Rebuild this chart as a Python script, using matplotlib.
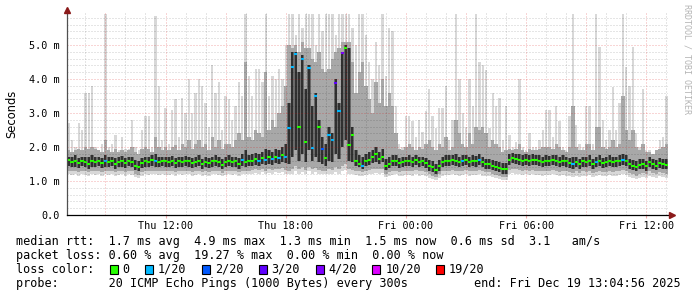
import numpy as np
import matplotlib
matplotlib.use("Agg")
import matplotlib.pyplot as plt
import matplotlib.dates as mdates
from matplotlib.patches import Rectangle
from datetime import datetime, timedelta

# smokeping data, 10 minute bins from Thu 07:05 to Fri 13:05, one row = one hour, values in ms
t_start = datetime(2025, 12, 18, 7, 5)
t_end = datetime(2025, 12, 19, 13, 4, 56)
bin_minutes = 10

med = [
    1.62, 1.55, 1.58, 1.52, 1.6, 1.55,
    1.5, 1.58, 1.55, 1.6, 1.52, 1.58,
    1.55, 1.6, 1.5, 1.55, 1.58, 1.52,
    1.6, 1.55, 1.45, 1.4, 1.52, 1.58,
    1.55, 1.62, 1.6, 1.55, 1.6, 1.58,
    1.55, 1.6, 1.52, 1.58, 1.55, 1.6,
    1.58, 1.52, 1.55, 1.6, 1.5, 1.55,
    1.52, 1.58, 1.6, 1.55, 1.48, 1.55,
    1.6, 1.55, 1.58, 1.5, 1.62, 1.55,
    1.58, 1.6, 1.65, 1.6, 1.68, 1.62,
    1.7, 1.65, 1.72, 1.68, 1.75, 1.7,
    2.56, 4.36, 4.73, 2.6, 4.6, 2.15,
    4.32, 1.97, 3.5, 2.6, 1.93, 1.68,
    2.35, 2.2, 3.88, 3.05, 4.76, 4.9,
    2.06, 2.35, 1.6, 1.5, 1.45, 1.6,
    1.62, 1.7, 1.78, 1.65, 1.72, 1.45,
    1.5, 1.58, 1.6, 1.52, 1.55, 1.58,
    1.6, 1.57, 1.62, 1.55, 1.58, 1.52,
    1.45, 1.4, 1.32, 1.45, 1.55, 1.6,
    1.6, 1.62, 1.6, 1.55, 1.6, 1.62,
    1.55, 1.6, 1.58, 1.62, 1.55, 1.5,
    1.5, 1.45, 1.42, 1.38, 1.35, 1.35,
    1.62, 1.68, 1.66, 1.62, 1.6, 1.63,
    1.6, 1.63, 1.62, 1.6, 1.56, 1.6,
    1.58, 1.62, 1.6, 1.55, 1.6, 1.58,
    1.52, 1.5, 1.55, 1.5, 1.58, 1.55,
    1.6, 1.5, 1.55, 1.6, 1.52, 1.55,
    1.6, 1.55, 1.58, 1.6, 1.62, 1.6,
    1.5, 1.45, 1.42, 1.48, 1.5, 1.45,
    1.55, 1.5, 1.45, 1.52, 1.5, 1.48,
]

# lost pings out of 20
loss = [
    0, 0, 0, 0, 0, 0,
    0, 0, 0, 0, 0, 1,
    0, 0, 0, 0, 0, 0,
    0, 0, 0, 0, 0, 0,
    0, 0, 1, 0, 0, 0,
    0, 0, 0, 0, 0, 0,
    0, 0, 0, 0, 0, 0,
    0, 0, 0, 0, 0, 0,
    0, 0, 0, 0, 1, 0,
    0, 0, 0, 1, 0, 1,
    0, 1, 0, 1, 0, 1,
    1, 1, 1, 0, 1, 0,
    1, 1, 1, 0, 2, 0,
    1, 1, 3, 1, 4, 0,
    0, 0, 0, 0, 1, 0,
    0, 0, 0, 0, 0, 0,
    0, 0, 0, 0, 0, 0,
    0, 0, 0, 0, 0, 0,
    0, 0, 0, 0, 0, 0,
    0, 0, 0, 0, 1, 0,
    0, 0, 0, 1, 0, 0,
    0, 0, 0, 0, 0, 0,
    0, 0, 0, 0, 0, 0,
    0, 0, 0, 0, 0, 0,
    0, 0, 0, 0, 0, 0,
    0, 1, 0, 0, 0, 0,
    0, 0, 1, 0, 0, 0,
    0, 0, 0, 0, 1, 0,
    0, 0, 0, 0, 0, 0,
    0, 0, 0, 0, 0, 0,
]

# max ping
hi = [
    2.7, 2.2, 2.0, 2.7, 2.5, 3.6,
    3.6, 3.8, 2.0, 1.9, 2.1, 5.9,
    2.0, 2.1, 2.35, 1.9, 2.3, 1.95,
    1.95, 2.8, 2.0, 1.9, 2.5, 2.9,
    2.9, 2.0, 5.85, 3.8, 2.2, 3.15,
    2.1, 3.1, 3.4, 2.3, 3.45, 3.0,
    4.0, 3.0, 3.6, 4.0, 3.8, 3.3,
    2.6, 4.4, 3.6, 3.9, 2.5, 3.5,
    3.4, 2.8, 3.2, 3.9, 3.5, 5.9,
    4.1, 3.5, 4.3, 4.3, 3.9, 5.9,
    3.5, 4.1, 4.0, 4.3, 4.0, 5.0,
    5.9, 5.9, 5.3, 5.9, 5.5, 5.9,
    5.9, 5.9, 5.0, 5.9, 5.4, 5.9,
    5.9, 5.9, 5.3, 5.9, 5.9, 5.9,
    5.9, 5.5, 5.0, 5.9, 5.9, 5.3,
    4.5, 4.0, 5.1, 4.4, 5.9, 4.1,
    5.5, 5.4, 3.2, 2.1, 2.0, 2.9,
    2.9, 2.75, 2.3, 2.8, 2.45, 3.05,
    3.7, 2.9, 2.55, 3.15, 3.15, 3.8,
    2.2, 2.8, 5.9, 4.0, 3.0, 2.6,
    4.0, 3.2, 5.9, 4.5, 4.4, 4.25,
    2.55, 3.6, 3.2, 3.45, 2.2, 3.2,
    2.35, 2.0, 2.15, 4.0, 2.0, 1.9,
    2.4, 2.0, 2.0, 2.2, 2.5, 3.1,
    3.1, 2.3, 3.2, 2.75, 2.0, 1.9,
    2.9, 5.9, 2.65, 2.1, 2.0, 3.2,
    3.2, 2.1, 5.9, 4.95, 2.8, 2.2,
    2.5, 3.77, 2.5, 3.3, 5.9, 4.36,
    3.8, 4.95, 2.4, 2.0, 3.7, 1.9,
    1.9, 1.8, 1.9, 2.2, 2.3, 3.5,
]

# upper edge of the medium smoke
mid_hi = [
    1.9, 1.85, 1.9, 1.95, 1.9, 2.0,
    1.95, 2.0, 1.95, 1.9, 1.85, 2.2,
    1.9, 1.85, 1.95, 1.85, 1.9, 1.85,
    1.9, 2.0, 1.85, 1.8, 1.95, 2.0,
    1.95, 1.85, 2.3, 2.0, 1.9, 2.0,
    1.9, 2.0, 2.05, 1.9, 2.1, 2.0,
    2.2, 1.95, 2.1, 2.2, 2.0, 2.1,
    1.9, 2.3, 2.0, 2.2, 1.95, 2.1,
    2.1, 2.0, 2.2, 2.4, 2.2, 4.5,
    2.3, 2.2, 2.5, 2.4, 2.3, 4.2,
    2.5, 2.8, 2.6, 3.0, 3.2, 3.8,
    5.0, 4.9, 5.0, 4.8, 5.1, 4.9,
    4.9, 4.6, 4.5, 4.8, 4.3, 4.2,
    4.3, 4.6, 4.8, 4.9, 5.1, 5.1,
    5.1, 4.5, 3.6, 4.2, 4.5, 3.8,
    3.4, 3.0, 3.9, 3.3, 4.0, 3.2,
    3.6, 3.2, 2.4, 1.95, 1.9, 2.0,
    2.1, 2.0, 1.9, 2.0, 1.95, 2.1,
    2.2, 2.0, 1.9, 2.1, 2.0, 2.3,
    1.9, 2.0, 2.8, 2.4, 2.1, 2.0,
    2.4, 2.1, 2.6, 2.5, 2.6, 2.4,
    2.0, 2.2, 2.1, 2.0, 1.85, 1.9,
    1.95, 1.9, 1.95, 2.1, 1.9, 1.85,
    1.95, 1.9, 1.9, 1.95, 2.0, 2.0,
    2.0, 1.95, 2.1, 2.0, 1.9, 1.85,
    2.0, 3.2, 2.0, 1.9, 1.9, 2.1,
    2.1, 1.9, 2.6, 2.6, 2.0, 1.95,
    2.0, 2.2, 2.0, 2.1, 3.5, 2.5,
    2.2, 2.5, 2.0, 1.9, 2.1, 1.85,
    1.85, 1.8, 1.9, 1.95, 2.0, 2.1,
]

# upper edge of the dark smoke
core_hi = [
    1.72, 1.7, 1.75, 1.68, 1.72, 1.7,
    1.7, 1.75, 1.72, 1.7, 1.68, 1.75,
    1.7, 1.72, 1.68, 1.7, 1.74, 1.68,
    1.72, 1.7, 1.62, 1.58, 1.68, 1.72,
    1.7, 1.75, 1.78, 1.7, 1.72, 1.72,
    1.7, 1.74, 1.68, 1.72, 1.7, 1.74,
    1.72, 1.68, 1.7, 1.75, 1.66, 1.7,
    1.68, 1.72, 1.75, 1.7, 1.65, 1.7,
    1.75, 1.7, 1.72, 1.68, 1.8, 1.9,
    1.75, 1.78, 1.82, 1.8, 1.85, 1.95,
    1.9, 1.85, 1.95, 1.9, 2.0, 2.1,
    3.3, 4.8, 4.8, 4.2, 4.7, 3.7,
    4.4, 3.2, 3.6, 2.8, 2.3, 2.1,
    2.6, 2.4, 4.0, 3.3, 4.8, 5.0,
    4.9, 2.6, 1.9, 1.75, 1.7, 1.78,
    1.85, 1.9, 2.0, 1.85, 1.95, 1.65,
    1.7, 1.75, 1.75, 1.68, 1.7, 1.72,
    1.75, 1.72, 1.76, 1.7, 1.72, 1.68,
    1.62, 1.58, 1.5, 1.62, 1.7, 1.75,
    1.75, 1.76, 1.78, 1.7, 1.75, 1.76,
    1.7, 1.75, 1.74, 1.78, 1.7, 1.66,
    1.66, 1.62, 1.58, 1.55, 1.52, 1.52,
    1.78, 1.82, 1.8, 1.78, 1.75, 1.78,
    1.75, 1.78, 1.76, 1.75, 1.72, 1.75,
    1.74, 1.76, 1.75, 1.7, 1.75, 1.72,
    1.68, 1.7, 1.7, 1.66, 1.72, 1.7,
    1.75, 1.66, 1.72, 1.75, 1.68, 1.7,
    1.75, 1.7, 1.72, 1.75, 1.78, 1.75,
    1.66, 1.62, 1.58, 1.64, 1.66, 1.6,
    1.7, 1.66, 1.62, 1.68, 1.66, 1.64,
]

# lower edge of the dark smoke
core_lo = [
    1.45, 1.4, 1.42, 1.38, 1.45, 1.4,
    1.36, 1.42, 1.4, 1.45, 1.38, 1.42,
    1.4, 1.45, 1.36, 1.4, 1.42, 1.38,
    1.44, 1.4, 1.32, 1.28, 1.38, 1.42,
    1.4, 1.45, 1.42, 1.4, 1.44, 1.42,
    1.4, 1.44, 1.38, 1.42, 1.4, 1.44,
    1.42, 1.38, 1.4, 1.44, 1.36, 1.4,
    1.38, 1.42, 1.44, 1.4, 1.34, 1.4,
    1.44, 1.4, 1.42, 1.36, 1.45, 1.42,
    1.44, 1.45, 1.48, 1.45, 1.5, 1.46,
    1.5, 1.48, 1.52, 1.5, 1.55, 1.52,
    1.5, 1.7, 1.9, 1.6, 1.8, 1.55,
    1.9, 1.6, 1.7, 1.55, 1.5, 1.45,
    1.6, 1.55, 1.8, 1.65, 2.0, 2.2,
    1.6, 1.55, 1.45, 1.4, 1.35, 1.45,
    1.48, 1.52, 1.55, 1.5, 1.55, 1.32,
    1.38, 1.44, 1.45, 1.38, 1.4, 1.44,
    1.45, 1.42, 1.46, 1.4, 1.44, 1.38,
    1.3, 1.26, 1.2, 1.3, 1.4, 1.45,
    1.45, 1.46, 1.45, 1.4, 1.45, 1.46,
    1.4, 1.45, 1.42, 1.46, 1.4, 1.36,
    1.36, 1.32, 1.28, 1.25, 1.22, 1.22,
    1.48, 1.52, 1.5, 1.48, 1.45, 1.48,
    1.45, 1.48, 1.46, 1.45, 1.42, 1.45,
    1.44, 1.46, 1.45, 1.4, 1.45, 1.42,
    1.38, 1.36, 1.4, 1.36, 1.42, 1.4,
    1.45, 1.36, 1.4, 1.45, 1.38, 1.4,
    1.45, 1.4, 1.42, 1.45, 1.46, 1.45,
    1.36, 1.32, 1.28, 1.34, 1.36, 1.3,
    1.4, 1.36, 1.32, 1.38, 1.36, 1.34,
]

# lower edge of the medium smoke
mid_lo = [
    1.3, 1.28, 1.3, 1.26, 1.3, 1.28,
    1.25, 1.3, 1.28, 1.3, 1.26, 1.3,
    1.28, 1.3, 1.25, 1.28, 1.3, 1.26,
    1.3, 1.28, 1.22, 1.18, 1.26, 1.3,
    1.28, 1.3, 1.3, 1.28, 1.3, 1.28,
    1.28, 1.3, 1.26, 1.3, 1.28, 1.3,
    1.3, 1.26, 1.28, 1.3, 1.25, 1.28,
    1.26, 1.3, 1.3, 1.28, 1.24, 1.28,
    1.3, 1.28, 1.3, 1.25, 1.3, 1.3,
    1.3, 1.32, 1.34, 1.32, 1.35, 1.3,
    1.35, 1.32, 1.36, 1.35, 1.38, 1.32,
    1.3, 1.36, 1.45, 1.35, 1.4, 1.32,
    1.42, 1.35, 1.38, 1.32, 1.3, 1.3,
    1.35, 1.32, 1.4, 1.36, 1.45, 1.5,
    1.36, 1.32, 1.3, 1.28, 1.25, 1.3,
    1.32, 1.35, 1.36, 1.34, 1.36, 1.22,
    1.26, 1.3, 1.3, 1.26, 1.28, 1.3,
    1.3, 1.28, 1.32, 1.28, 1.3, 1.26,
    1.2, 1.16, 1.12, 1.2, 1.28, 1.3,
    1.3, 1.32, 1.3, 1.28, 1.3, 1.32,
    1.28, 1.3, 1.3, 1.32, 1.28, 1.25,
    1.25, 1.22, 1.18, 1.15, 1.12, 1.12,
    1.32, 1.36, 1.35, 1.32, 1.3, 1.32,
    1.3, 1.32, 1.3, 1.3, 1.28, 1.3,
    1.3, 1.32, 1.3, 1.26, 1.3, 1.28,
    1.25, 1.24, 1.28, 1.24, 1.28, 1.26,
    1.3, 1.24, 1.26, 1.3, 1.25, 1.26,
    1.3, 1.26, 1.28, 1.3, 1.32, 1.3,
    1.24, 1.2, 1.16, 1.22, 1.24, 1.2,
    1.28, 1.24, 1.2, 1.25, 1.24, 1.22,
]

# min ping
lo = [
    1.2, 1.18, 1.2, 1.16, 1.2, 1.18,
    1.15, 1.2, 1.18, 1.2, 1.16, 1.2,
    1.18, 1.2, 1.15, 1.18, 1.2, 1.16,
    1.2, 1.18, 1.12, 1.08, 1.16, 1.2,
    1.18, 1.2, 1.2, 1.18, 1.2, 1.18,
    1.18, 1.2, 1.16, 1.2, 1.18, 1.2,
    1.2, 1.16, 1.18, 1.2, 1.15, 1.18,
    1.16, 1.2, 1.2, 1.18, 1.14, 1.18,
    1.2, 1.18, 1.2, 1.15, 1.2, 1.2,
    1.2, 1.22, 1.24, 1.22, 1.25, 1.2,
    1.24, 1.2, 1.25, 1.24, 1.26, 1.2,
    1.2, 1.22, 1.28, 1.22, 1.25, 1.2,
    1.28, 1.22, 1.25, 1.2, 1.2, 1.2,
    1.22, 1.2, 1.26, 1.22, 1.3, 1.32,
    1.22, 1.2, 1.18, 1.16, 1.14, 1.18,
    1.2, 1.22, 1.24, 1.22, 1.24, 1.12,
    1.15, 1.18, 1.2, 1.15, 1.16, 1.18,
    1.18, 1.16, 1.2, 1.16, 1.18, 1.15,
    1.1, 1.06, 1.02, 1.1, 1.16, 1.18,
    1.18, 1.2, 1.18, 1.16, 1.18, 1.2,
    1.16, 1.18, 1.18, 1.2, 1.16, 1.14,
    1.14, 1.12, 1.08, 1.05, 1.02, 1.02,
    1.2, 1.24, 1.22, 1.2, 1.18, 1.2,
    1.18, 1.2, 1.18, 1.18, 1.16, 1.18,
    1.18, 1.2, 1.18, 1.14, 1.18, 1.16,
    1.14, 1.12, 1.16, 1.12, 1.16, 1.14,
    1.18, 1.12, 1.14, 1.18, 1.14, 1.14,
    1.18, 1.14, 1.16, 1.18, 1.2, 1.18,
    1.12, 1.08, 1.05, 1.1, 1.12, 1.08,
    1.16, 1.12, 1.08, 1.14, 1.12, 1.1,
]

loss_levels = [0, 1, 2, 3, 4, 10, 19]
loss_labels = ["0", "1/20", "2/20", "3/20", "4/20", "10/20", "19/20"]
loss_colors = ["#26ff00", "#00b8ff", "#0059ff", "#5e00ff", "#7e00ff", "#dd00ff", "#ff0000"]

y_ticks = [0, 1, 2, 3, 4, 5]
y_ticklabels = ["0.0", "1.0 m", "2.0 m", "3.0 m", "4.0 m", "5.0 m"]

legend_lines = [
    "median rtt:  1.7 ms avg  4.9 ms max  1.3 ms min  1.5 ms now  0.6 ms sd  3.1   am/s",
    "packet loss: 0.60 % avg  19.27 % max  0.00 % min  0.00 % now",
    "loss color:",
    "probe:       20 ICMP Echo Pings (1000 Bytes) every 300s",
]
end_label = "end: Fri Dec 19 13:04:56 2025"
watermark = "RRDTOOL / TOBI OETIKER"


W, H = 697, 297
MONO = "DejaVu Sans Mono"
LIGHT = "#d8d8d8"
fig = plt.figure(figsize=(W / 100, H / 100), dpi=100)
fig.patch.set_facecolor("white")
ax = fig.add_axes([67 / W, (H - 215) / H, (668 - 67) / W, 203 / H])

n = len(med)
t = mdates.date2num([t_start + timedelta(minutes=bin_minutes * i) for i in range(n)])
w = bin_minutes / 1440.

lo_a, hi_a = np.array(lo), np.array(hi)
mid_lo_a, mid_hi_a = np.array(mid_lo), np.array(mid_hi)
core_lo_a, core_hi_a = np.array(core_lo), np.array(core_hi)

# light spikes a bit narrower than the bin, they are thin streaks in the original
ax.bar(t + 0.15 * w, hi_a - lo_a, bottom=lo_a, width=0.7 * w, align="edge", color=LIGHT,
       lw=0, zorder=1)
# bottom fringe under the band stays continuous
ax.bar(t, mid_lo_a - lo_a, bottom=lo_a, width=w, align="edge", color=LIGHT, lw=0, zorder=1)
ax.bar(t, mid_hi_a - mid_lo_a, bottom=mid_lo, width=w, align="edge",
       color="#a8a8a8", lw=0, zorder=2)
# dark core: mid-dark full width, black thinner so the busy part keeps its streaky look
ax.bar(t, core_hi_a - core_lo_a, bottom=core_lo, width=w, align="edge",
       color="#6a6a6a", lw=0, zorder=2.5)
ax.bar(t + 0.2 * w, core_hi_a - core_lo_a, bottom=core_lo, width=0.6 * w,
       align="edge", color="#303030", lw=0, zorder=3)

# median coloured by loss
def loss_color(l):
    c = loss_colors[0]
    for lev, col in zip(loss_levels, loss_colors):
        if l >= lev:
            c = col
    return c

ax.hlines(med, t, t + w, colors=[loss_color(l) for l in loss], lw=1.5, zorder=4)

x0 = mdates.date2num(t_start) - 4 / 86400.
x1 = mdates.date2num(t_end)
ax.set_xlim(x0, x1)
ax.set_ylim(0, 5.97)

# grid on top, semi transparent like rrdtool
MGRID = (0.85, 0.0, 0.0, 0.33)
GRID = (0.0, 0.0, 0.0, 0.2)
for v in np.arange(0.2, 5.9, 0.2):
    major = abs(v - round(v)) < 1e-6
    ax.axhline(v, color=MGRID if major else GRID, lw=0.72, ls=(0, (1, 2)), zorder=5)
h = datetime(2025, 12, 18, 8)
while h < t_end:
    major = h.hour % 3 == 0
    ax.axvline(mdates.date2num(h), color=MGRID if major else GRID, lw=0.72,
               ls=(0, (1, 2)), zorder=5)
    h += timedelta(hours=1)

ax.set_yticks(y_ticks)
ax.set_yticklabels(y_ticklabels, family=MONO, fontsize=7.3)
xt = [datetime(2025, 12, 18, 12) + timedelta(hours=6 * k) for k in range(5)]
ax.set_xticks(mdates.date2num(xt))
ax.xaxis.set_major_formatter(mdates.DateFormatter("%a %H:%M"))
for lab in ax.get_xticklabels():
    lab.set_family(MONO)
    lab.set_fontsize(7.3)
ax.tick_params(axis="y", length=0, pad=5.5, colors="black")
ax.tick_params(axis="x", length=2, pad=2, colors="black", color=MGRID)

for s in ["top", "right"]:
    ax.spines[s].set_visible(False)
ax.spines["left"].set_color("#505050")
ax.spines["bottom"].set_color("black")
ax.spines["left"].set_linewidth(0.9)
ax.spines["bottom"].set_linewidth(0.9)
ax.spines["left"].set_zorder(6)
ax.spines["bottom"].set_zorder(6)
ax.spines["left"].set_bounds(0, 6.1)
ax.spines["bottom"].set_bounds(x0, x1 + 0.003)
ax.plot([0], [1.01], marker="^", ms=4, color="#8b1a1a", transform=ax.transAxes,
        clip_on=False, zorder=7)
ax.plot([1.006], [0], marker=">", ms=4, color="#8b1a1a", transform=ax.transAxes,
        clip_on=False, zorder=7)

ax.set_ylabel("Seconds", fontsize=8.3)
ax.yaxis.set_label_coords(-49 / 601, 0.5)

# legend block under the graph
def fx(px):
    return px / W

def fy(py):
    return 1 - py / H

cw = 7.1
for i, line in enumerate(legend_lines):
    fig.text(fx(16), fy(241 + 14.2 * i), line, family=MONO, fontsize=8.5, va="center", ha="left")
fig.text(fx(681), fy(283.6), end_label, family=MONO, fontsize=8.5, va="center", ha="right")

c = 13
for lab, col in zip(loss_labels, loss_colors):
    bx = 16 + (c + 0.2) * cw
    fig.patches.append(Rectangle((fx(bx), fy(273.5)), 8 / W, 9 / H, transform=fig.transFigure,
                                 facecolor=col, edgecolor="black", lw=0.8, figure=fig))
    fig.text(fx(16 + (c + 2) * cw), fy(269.4), lab, family=MONO, fontsize=8.5,
             va="center", ha="left")
    c = c + 2 + len(lab) + 2

fig.text(fx(687), fy(4), watermark, family=MONO, fontsize=6, color="#b4b4b4",
         rotation=270, va="top", ha="center")

fig.savefig("out.png", dpi=100, facecolor="white")
